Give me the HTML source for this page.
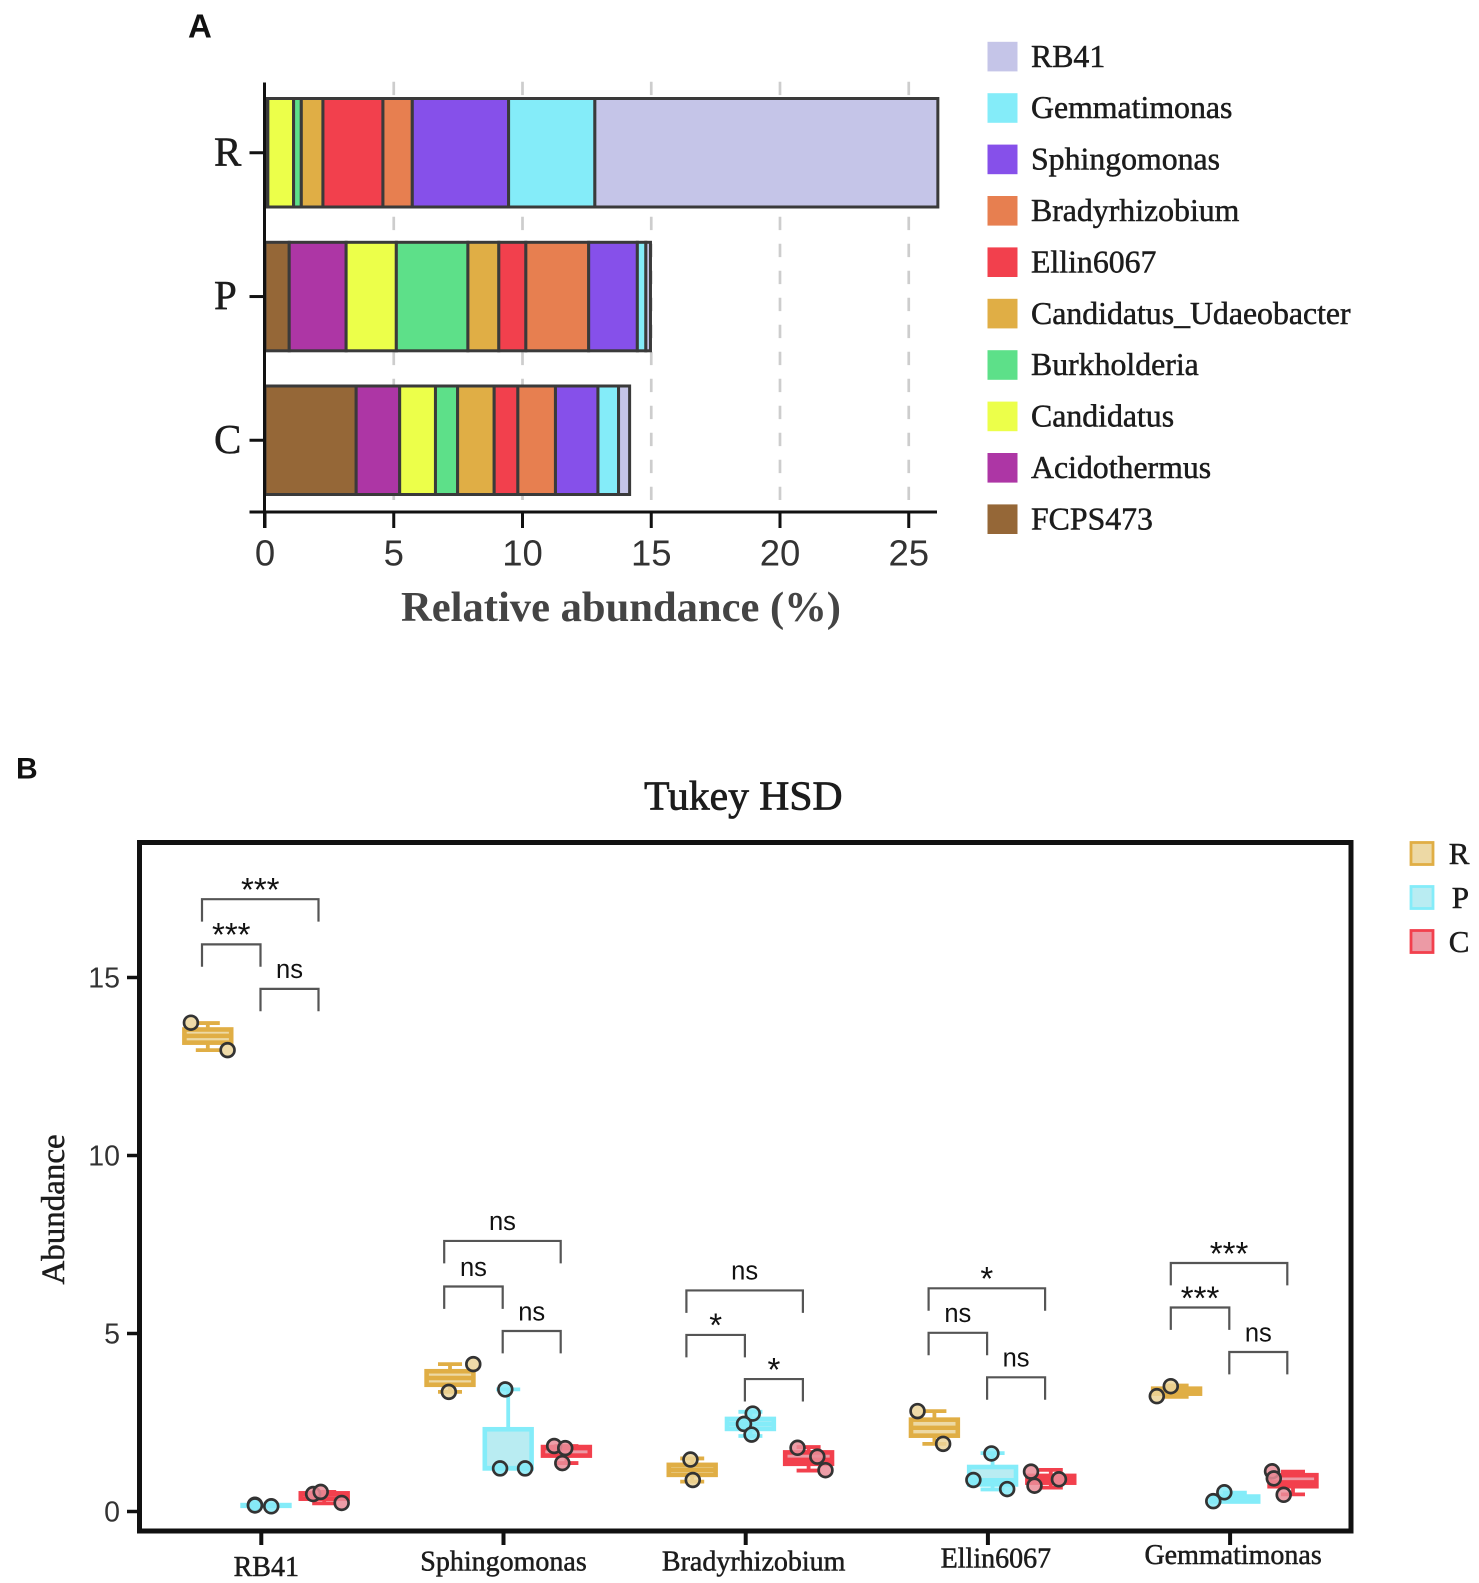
<!DOCTYPE html>
<html lang="en">
<head>
<meta charset="utf-8">
<title>Relative abundance and Tukey HSD</title>
<style>
html,body{margin:0;padding:0;background:#fff;}
svg{display:block;}
text{font-family:"Liberation Serif",serif;fill:#1c1c1c;}
.sans{font-family:"Liberation Sans",sans-serif;}
.soft{stroke:#1c1c1c;stroke-width:.5px;}
.heavy{stroke:#1c1c1c;stroke-width:.8px;}
</style>
</head>
<body>
<svg id="figure" width="1479" height="1583" viewBox="0 0 1479 1583" xmlns="http://www.w3.org/2000/svg">
  <rect x="0" y="0" width="1479" height="1583" fill="#fff"/>
  <text class="sans" x="188" y="37.5" font-size="33" font-weight="bold" style="fill:#111">A</text>
  <text class="sans" x="16" y="778.5" font-size="30" font-weight="bold" style="fill:#111">B</text>

  <g id="panelA"></g>
  <g id="legendA"></g>
  <text x="621" y="621" font-size="42" font-weight="bold" text-anchor="middle" textLength="440" lengthAdjust="spacingAndGlyphs" style="fill:#444">Relative abundance (%)</text>

  <text class="heavy" x="743.3" y="809.5" font-size="41.6" text-anchor="middle">Tukey HSD</text>
  <text class="soft" transform="translate(64,1209.5) rotate(-90)" font-size="33" text-anchor="middle">Abundance</text>
  <g id="panelB"></g>
  <g id="legendB"></g>
</svg>
<script>
// ---------- Panel A data ----------
const sampleLabels = ["R", "P", "C"];
const genera = ["FCPS473", "Acidothermus", "Candidatus", "Burkholderia", "Candidatus_Udaeobacter", "Ellin6067", "Bradyrhizobium", "Sphingomonas", "Gemmatimonas", "RB41"];
const genusColors = ["#956737", "#ad36a5", "#ecff4a", "#5de089", "#e0ae45", "#f2404d", "#e77f50", "#8650ea", "#84ecf9", "#c5c5e8"];
const abundanceR = [0.03, 0.08, 1.00, 0.30, 0.84, 2.33, 1.14, 3.74, 3.35, 13.32];
const abundanceP = [0.94, 2.21, 1.95, 2.78, 1.20, 1.05, 2.44, 1.89, 0.33, 0.18];
const abundanceC = [3.54, 1.69, 1.39, 0.86, 1.42, 0.92, 1.46, 1.65, 0.80, 0.43];
const abundanceTicks = ["0", "5", "10", "15", "20", "25"];

// ---------- Panel B data (rows: genus, columns: R, P, C) ----------
const boxCategories = ["RB41", "Sphingomonas", "Bradyrhizobium", "Ellin6067", "Gemmatimonas"];
const boxGroups = ["R", "P", "C"];
const groupStroke = ["#e0ae45", "#84ecf9", "#f2404d"];
const groupFill = ["#edd9a5", "#b9ecf2", "#ec9aa5"];
const pointFill = ["#ecd59a", "#86eaf7", "#ea8d99"];
const abundanceAxisTicks = ["0", "5", "10", "15"];
const q1Values = [[13.17, 0.16, 0.36], [3.56, 1.21, 1.57], [1.03, 2.32, 1.34], [2.13, 0.76, 0.81], [3.31, 0.28, 0.71]];
const medianValues = [[13.36, 0.17, 0.49], [3.75, 1.22, 1.78], [1.17, 2.46, 1.45], [2.35, 0.88, 0.90], [3.38, 0.30, 0.82]];
const q3Values = [[13.54, 0.18, 0.51], [3.94, 2.31, 1.81], [1.31, 2.60, 1.66], [2.58, 1.25, 1.00], [3.45, 0.42, 1.02]];
const whiskerLow = [[12.96, 0.15, 0.23], [3.36, 1.21, 1.36], [0.84, 2.12, 1.15], [1.90, 0.62, 0.67], [3.22, 0.28, 0.48]];
const whiskerHigh = [[13.72, 0.19, 0.55], [4.14, 3.43, 1.84], [1.49, 2.80, 1.81], [2.82, 1.64, 1.17], [3.54, 0.53, 1.12]];
const pointValues = [
  [[13.73, 12.96], [0.19, 0.17, 0.146], [0.49, 0.55, 0.24]],
  [[4.14, 3.36], [3.43, 1.21, 1.21], [1.84, 1.78, 1.36]],
  [[1.46, 0.885], [2.75, 2.46, 2.16], [1.79, 1.54, 1.16]],
  [[2.82, 1.90], [1.63, 0.885, 0.63], [1.12, 0.725, 0.905]],
  [[3.52, 3.24], [0.54, 0.29], [1.13, 0.93, 0.47]]
];
// horizontal jitter of each point, as a fraction of the group spacing
const pointJitter = [
  [[-0.29, 0.34], [-0.19, -0.19, 0.09], [-0.19, -0.06, 0.30]],
  [[0.40, -0.02], [-0.05, -0.14, 0.29], [-0.21, -0.02, -0.07]],
  [[-0.03, 0.01], [0.04, -0.11, 0.02], [-0.19, 0.15, 0.29]],
  [[-0.29, 0.15], [-0.02, -0.33, 0.25], [-0.34, -0.28, 0.14]],
  [[-0.10, -0.34], [-0.18, -0.37], [-0.36, -0.33, -0.16]]
];
// significance bracket levels in abundance units: R-C, R-P, P-C
const bracketLevels = [[17.2, 15.93, 14.68], [7.6, 6.32, 5.07], [6.21, 4.96, 3.72], [6.27, 5.02, 3.77], [6.98, 5.73, 4.48]];
const bracketLabels = [["***", "***", "ns"], ["ns", "ns", "ns"], ["ns", "*", "*"], ["*", "ns", "ns"], ["***", "***", "ns"]];

// ---------- helpers ----------
const NS = "http://www.w3.org/2000/svg";
function make(tag, attrs, parent) {
  const node = document.createElementNS(NS, tag);
  for (const key in attrs) node.setAttribute(key, attrs[key]);
  parent.appendChild(node);
  return node;
}
const xA = v => 265 + 25.75 * v;
const yB = v => 1511.5 - 35.6 * v;
const groupX = g => 261.3 + 242.2 * g;
const boxX = (g, s) => groupX(g) + 4.7 + (s - 1) * 58.2;

// ---------- Panel A ----------
const panelA = document.getElementById("panelA");
const barTops = [98.5, 242.3, 386];
const barHeight = 108.5;
const stackRows = [abundanceR, abundanceP, abundanceC];

abundanceTicks.forEach((t) => {
  const v = +t;
  if (v === 0) return;
  const grid = make("line", {x1: xA(v), x2: xA(v), y1: 81.7, y2: 500, stroke: "#cdcdcd", "stroke-width": 2.7, "stroke-dasharray": "13.4 13.6"}, panelA);
  
  
});

stackRows.forEach((row, r) => {
  let cum = 0;
  row.forEach((val, i) => {
    const seg = make("rect", {x: xA(cum), y: barTops[r], width: xA(cum + val) - xA(cum), height: barHeight, fill: genusColors[i], stroke: "#3a3a3a", "stroke-width": 3}, panelA);
    
    
    cum += val;
  });
});

const axisAY = make("line", {x1: 264.5, x2: 264.5, y1: 82.5, y2: 528, stroke: "#111", "stroke-width": 3}, panelA);


const axisAX = make("line", {x1: 249.5, x2: 937, y1: 512, y2: 512, stroke: "#111", "stroke-width": 3}, panelA);



abundanceTicks.forEach((t) => {
  const v = +t;
  const mark = make("line", {x1: xA(v), x2: xA(v), y1: 512, y2: 528, stroke: "#111", "stroke-width": 3}, panelA);
  
  
  const lab = make("text", {x: xA(v), y: 565.5, "font-size": 36.5, "text-anchor": "middle", class: "sans"}, panelA);
  
  
  lab.style.fill = "#333";
  lab.textContent = t;
});

sampleLabels.forEach((name, r) => {
  const cy = barTops[r] + barHeight / 2;
  const mark = make("line", {x1: 249.5, x2: 264.5, y1: cy, y2: cy, stroke: "#111", "stroke-width": 3}, panelA);
  
  
  const lab = make("text", {x: 214, y: cy + 12.5, "font-size": 41, class: "soft"}, panelA);
  
  
  lab.textContent = name;
});

// ---------- Legend A ----------
const legendA = document.getElementById("legendA");
genera.slice().reverse().forEach((name, i) => {
  const top = 41.8 + 51.4 * i;
  const sw = make("rect", {x: 987.5, y: top, width: 30, height: 29.6, fill: genusColors[genera.length - 1 - i]}, legendA);
  
  
  const tx = make("text", {x: 1031, y: top + 25, "font-size": 31.8, class: "soft"}, legendA);
  
  
  tx.textContent = name;
});

// ---------- Panel B ----------
const panelB = document.getElementById("panelB");
const frame = make("rect", {x: 139.5, y: 842.5, width: 1211.5, height: 688.5, fill: "none", stroke: "#111", "stroke-width": 5}, panelB);



abundanceAxisTicks.forEach((t) => {
  const v = +t;
  const mark = make("line", {x1: 127, x2: 139.5, y1: yB(v), y2: yB(v), stroke: "#111", "stroke-width": 3.5}, panelB);
  
  
  const lab = make("text", {x: 120, y: yB(v) + 10, "font-size": 28.5, "text-anchor": "end", class: "sans"}, panelB);
  
  
  lab.style.fill = "#333";
  lab.textContent = t;
});

const labelNudge = [5, 0, 8, 8, 3];
const labelDrop = [46, 40.7, 40.7, 37.7, 34];
boxCategories.forEach((name, g) => {
  const mark = make("line", {x1: groupX(g), x2: groupX(g), y1: 1531, y2: 1545, stroke: "#111", "stroke-width": 4}, panelB);
  
  
  const lab = make("text", {x: groupX(g) + labelNudge[g], y: 1530 + labelDrop[g], "font-size": 28, "text-anchor": "middle", class: "soft"}, panelB);
  
  
  lab.textContent = name;

  // brackets
  const pairs = [[-59.3, 57.2], [-59.3, -0.8], [-0.8, 57.2]];
  pairs.forEach((pair, b) => {
    const top = yB(bracketLevels[g][b]);
    const x1 = groupX(g) + pair[0];
    const x2 = groupX(g) + pair[1];
    const br = make("path", {d: "M" + x1 + " " + (top + 22.4) + "V" + top + "H" + x2 + "V" + (top + 22.4), fill: "none", stroke: "#555", "stroke-width": 2.2}, panelB);
    
    
    const sig = bracketLabels[g][b];
    const isStar = sig.charAt(0) === "*";
    const txt = make("text", {x: (x1 + x2) / 2, y: isStar ? top + 1.8 : top - 10.7, "font-size": isStar ? 33 : 25.5, "text-anchor": "middle", class: "sans"}, panelB);
    
    
    txt.style.fill = "#111";
    txt.textContent = sig;
  });

  // boxes
  boxGroups.forEach((grp, s) => {
    const cx = boxX(g, s);
    const stroke = groupStroke[s];
    const whisk = make("line", {x1: cx, x2: cx, y1: yB(whiskerHigh[g][s]), y2: yB(whiskerLow[g][s]), stroke: stroke, "stroke-width": 3.8}, panelB);
    
    
    [whiskerHigh[g][s], whiskerLow[g][s]].forEach((w) => {
      const cap = make("line", {x1: cx - 12, x2: cx + 12, y1: yB(w), y2: yB(w), stroke: stroke, "stroke-width": 3.8}, panelB);
      
      
    });
    const box = make("rect", {x: cx - 23.4, width: 46.8, y: yB(q3Values[g][s]), height: yB(q1Values[g][s]) - yB(q3Values[g][s]), fill: groupFill[s], stroke: stroke, "stroke-width": 4.6}, panelB);
    
    
    const med = make("line", {x1: cx - 23.4, x2: cx + 23.4, y1: yB(medianValues[g][s]), y2: yB(medianValues[g][s]), stroke: stroke, "stroke-width": 4.4}, panelB);
    
    
  });
  boxGroups.forEach((grp, s) => {
    const cx = boxX(g, s);
    pointValues[g][s].forEach((v, k) => {
      const dot = make("circle", {cx: cx + pointJitter[g][s][k] * 58.2, cy: yB(v), r: 6.9, fill: pointFill[s], "fill-opacity": 0.85, stroke: "#333", "stroke-width": 2.7}, panelB);
      
      
    });
  });
});

// ---------- Legend B ----------
const legendB = document.getElementById("legendB");
boxGroups.forEach((grp, s) => {
  const top = 842.5 + 44 * s;
  const sw = make("rect", {x: 1411, y: top, width: 22, height: 22, fill: groupFill[s], stroke: groupStroke[s], "stroke-width": 2.8}, legendB);
  
  
  const tx = make("text", {x: s === 1 ? 1451.7 : 1448.7, y: top + 21.5, "font-size": 31, class: "soft"}, legendB);
  
  
  tx.textContent = grp;
});
</script>
</body>
</html>
